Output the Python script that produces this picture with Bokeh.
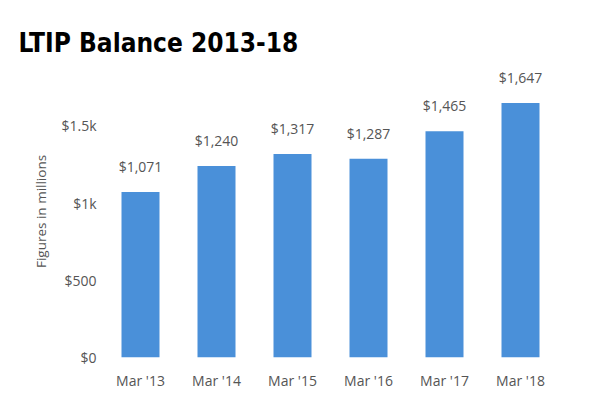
from bokeh.plotting import figure
from bokeh.models import FixedTicker, ColumnDataSource, Range1d, Title
from bokeh.core.properties import value
from bokeh.embed import file_html
from bokeh.resources import INLINE

categories = ["Mar '13", "Mar '14", "Mar '15", "Mar '16", "Mar '17", "Mar '18"]
balances = [1071, 1240, 1317, 1287, 1465, 1647]
bar_labels = ["$1,071", "$1,240", "$1,317", "$1,287", "$1,465", "$1,647"]
y_ticks = [0, 500, 1000, 1500]
y_tick_labels = ["$0", "$500", "$1k", "$1.5k"]

source = ColumnDataSource(dict(cat=categories, val=balances, lab=bar_labels))

p = figure(frame_width=456, frame_height=292, x_range=categories, y_range=Range1d(0, 1890),
           output_backend="svg", toolbar_location=None,
           min_border_left=102, min_border_right=26, min_border_top=65, min_border_bottom=27)
p.title = None
t = Title(text="LTIP Balance 2013-18", text_font="DejaVu Sans Condensed",
          text_font_size="26px", text_font_style="bold", text_color="#000000",
          align="left", offset=-84, standoff=15)
p.add_layout(t, "above")

p.vbar(x="cat", top="val", width=0.5, source=source, color="#4a90d9", line_color=None)
p.text(x="cat", y="val", text="lab", source=source, y_offset=-16,
       text_align="center", text_baseline="bottom", text_font=value("Open Sans"),
       text_font_size="14px", text_color="#555555")

p.outline_line_color = None
p.xgrid.grid_line_color = None
p.ygrid.grid_line_color = None
for ax in (p.xaxis, p.yaxis):
    ax.axis_line_color = None
    ax.major_tick_line_color = None
    ax.minor_tick_line_color = None
    ax.major_tick_out = 0
    ax.major_tick_in = 0
    ax.minor_tick_out = 0
    ax.major_label_text_font = "Open Sans"
    ax.major_label_text_font_size = "14px"
    ax.major_label_text_color = "#555555"
p.xaxis.major_label_standoff = 13
p.yaxis.ticker = FixedTicker(ticks=y_ticks)
p.yaxis.major_label_overrides = {t_: l for t_, l in zip(y_ticks, y_tick_labels)}
p.yaxis.major_label_standoff = 6
p.yaxis.axis_label = "Figures in millions"
p.yaxis.axis_label_text_font = "Open Sans"
p.yaxis.axis_label_text_font_size = "13.5px"
p.yaxis.axis_label_text_font_style = "normal"
p.yaxis.axis_label_text_color = "#555555"
p.yaxis.axis_label_standoff = 8
p.x_range.range_padding = 0

open("out.html", "w").write(file_html(p, INLINE))
